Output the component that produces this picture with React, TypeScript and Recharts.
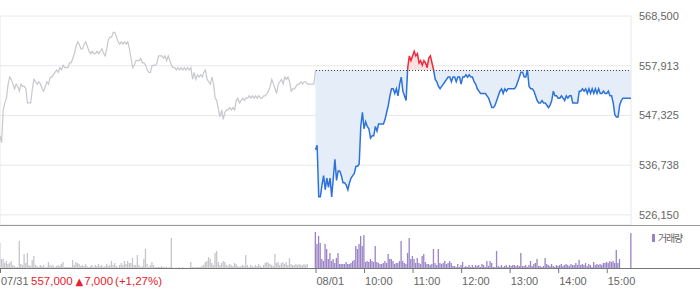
import React from 'react';
import {
  ComposedChart,
  Line,
  Area,
  Bar,
  Cell,
  XAxis,
  YAxis,
  CartesianGrid,
  ReferenceLine,
} from 'recharts';

// ---- data ----
const STEP_MIN = 2; // minutes between samples
const SESSION_MIN = 390; // 09:00 - 15:30
const prevClose = 557000; // 07/31 close
const prevChange = 7000;
const prevChangePct = '+1,27%';

const priceTicks = [526150, 536738, 547325, 557913, 568500];
const priceDomain = [524000, 568500];
const hourTicks = [60, 120, 180, 240, 300, 360, 390, 450, 510, 570, 630, 690, 750];
const dateTicks = [0, 390, 450, 510, 570, 630, 690, 750];
const dateTickLabels = ['07/31', '08/01', '10:00', '11:00', '12:00', '13:00', '14:00', '15:00'];
const volumeDomainK = [0, 42];

// 07/31 prices (thousand won), every 2 minutes from 09:00
const day1PriceK = [
  543, 541.5, 548.5, 550, 551, 554, 555.5, 555, 554, 553,
  554, 553.5, 552.5, 554, 553.5, 553.5, 553, 550, 550, 550,
  553, 555, 554.5, 554, 554.5, 554, 553, 552.5, 553.5, 554.5,
  554, 555.5, 555.5, 556, 556.5, 557, 556.5, 557.5, 557, 558,
  557.5, 557.5, 557.5, 558.5, 558.5, 559.5, 560.5, 562, 563, 562.5,
  561.5, 561.5, 562.5, 563, 562, 561, 560.5, 561, 560.5, 560.5,
  561, 560.5, 561, 561.5, 560.5, 560, 561.5, 563.5, 564, 564,
  565, 565, 564, 563, 562.5, 563, 562.5, 563, 562.5, 563,
  561.5, 559.5, 557.5, 558, 559, 559, 559, 559.5, 558.5, 558.5,
  558, 557, 556.5, 556.5, 558, 558, 558, 558.5, 560, 560,
  560, 559.5, 560, 559, 560, 559, 558, 557.5, 557.5, 557,
  557.5, 557, 557.5, 557, 557.5, 557, 557.5, 557, 557.5, 555,
  556.5, 555, 556, 555.5, 556, 555.5, 556.5, 557, 555, 554.5,
  554, 555.5, 554, 551, 550.5, 548.5, 547, 548.5, 546.5, 548,
  548.5, 548.5, 549, 548.5, 549, 548.5, 550.5, 551, 550, 550.5,
  551, 550.5, 551, 551, 551.5, 551, 551.5, 551, 551.5, 551,
  551.5, 551, 551, 551.5, 551.5, 552, 552.5, 553.5, 555, 554,
  553, 552, 554, 554.5, 555, 554, 555.5, 555, 555.5, 554.5,
  552.5, 553, 553, 553.5, 554, 554, 554.5, 554, 554.5, 554.5,
  554, 554, 554, 554, 554, 557,
];

// 08/01 prices (thousand won), every 2 minutes from 09:00
const day2PriceK = [
  540, 541, 530, 530, 532.5, 534.5, 531.5, 534, 532, 534,
  530, 534, 538, 533.5, 535.5, 535.5, 534.5, 533, 533, 532.5,
  531.5, 533, 534, 534.5, 535, 536.5, 536.5, 537, 545, 548,
  544.5, 546, 545, 544.5, 542.5, 543, 543, 545, 544, 545.5,
  545.5, 545.5, 545.5, 546.5, 548, 549.5, 551.5, 553, 553, 552,
  553, 551.5, 554, 555.5, 552.5, 551.5, 550.5, 557.5, 560, 559,
  560, 561, 560, 560.5, 558.5, 559, 558, 559, 558.5, 557.5,
  559.5, 560, 558.5, 557, 555, 554.5, 553.5, 553, 553.5, 554,
  554.5, 555, 555.5, 555.5, 554.5, 555.5, 555.5, 554.5, 555.5, 555.5,
  554, 555.5, 555.5, 556, 555.5, 556, 555.5, 555.5, 554.5, 554,
  553, 552.5, 552, 552, 552, 552, 551.5, 551, 550, 549,
  549, 549.5, 550.5, 551.5, 552.5, 553, 552, 553, 552.5, 553,
  553, 553, 553, 553, 553.5, 554.5, 555.5, 556.5, 556.5, 555.5,
  555.5, 557, 553.5, 553, 553, 552.5, 551.5, 550.5, 550, 550,
  550.5, 550, 550, 549.5, 549, 549.5, 550.5, 552.5, 551.5, 551.5,
  551, 551, 551.5, 551, 550.5, 551.5, 551, 551.5, 551.5, 550,
  550, 550, 550, 552.5, 552.5, 553, 552.5, 553, 552, 553,
  552, 553, 552, 553, 552, 553, 552, 552, 552.5, 552,
  552, 552.5, 551.5, 551.5, 550, 547.5, 547, 547, 549.5, 550.5,
  551, 551, 551, 551, 551, 551,
];

// 07/31 volume (thousand shares) per 2 minutes, 09:00 - 15:28
const day1VolK = [
  25, 9, 9, 5, 7, 4, 5, 7, 3, 2,
  1, 1, 27, 4, 3, 14, 5, 15, 3, 2,
  8, 12, 3, 2, 1, 3, 2, 3, 1, 1,
  6, 3, 2, 3, 1, 2, 3, 2, 4, 6,
  1, 1, 1, 1, 1, 8, 3, 6, 5, 4,
  2, 3, 2, 4, 2, 1, 2, 3, 1, 3,
  2, 4, 2, 3, 1, 2, 4, 2, 3, 7,
  3, 5, 2, 1, 3, 5, 3, 7, 4, 7,
  5, 5, 10, 3, 3, 13, 3, 1, 2, 9,
  19, 4, 1, 3, 6, 3, 1, 1, 1, 1,
  2, 1, 1, 1, 0.5, 1, 30, 0.5, 0, 0.5,
  0, 1, 0, 1, 0, 0.5, 0, 0.5, 6, 1,
  1, 0.5, 1, 1, 1, 2, 3, 6, 7, 11,
  9, 5, 3, 15, 17, 6, 3, 5, 7, 6,
  3, 2, 4, 3, 2, 5, 4, 2, 1, 2,
  3, 2, 13, 3, 1, 3, 2, 1, 3, 2,
  4, 2, 1, 3, 5, 6, 5, 4, 3, 2,
  14, 5, 6, 3, 5, 6, 4, 6, 3, 10,
  4, 3, 3, 4, 3, 4, 3, 3, 4, 3,
  4, 0, 0, 0, 0,
];

// 08/01 volume (thousand shares) per 2 minutes, 09:00 - 15:30
const day2VolK = [
  36, 24, 32, 25, 9, 7, 24, 19, 9, 15,
  7, 9, 5, 10, 15, 4, 4, 4, 4, 6,
  4, 4, 5, 7, 8, 22, 19, 24, 32, 22,
  33, 6, 7, 6, 9, 7, 6, 22, 6, 5,
  4, 4, 5, 7, 5, 14, 9, 9, 7, 4,
  5, 5, 7, 27, 7, 5, 4, 15, 30, 9,
  12, 9, 5, 10, 5, 4, 12, 14, 6, 4,
  4, 3, 4, 19, 5, 3, 19, 5, 4, 5,
  7, 4, 5, 7, 5, 2, 2, 1, 4, 1,
  3, 6, 1, 2, 1, 3, 1, 3, 1, 3,
  2, 3, 1, 4, 3, 1, 7, 2, 7, 5,
  1, 1, 17, 2, 1, 3, 1, 2, 3, 1,
  3, 2, 3, 3, 2, 3, 2, 15, 2, 2,
  3, 1, 3, 7, 2, 4, 5, 9, 2, 2,
  1, 2, 10, 4, 3, 2, 4, 2, 1, 3,
  2, 3, 4, 2, 3, 4, 3, 2, 4, 3,
  3, 5, 3, 8, 3, 4, 3, 5, 2, 4,
  3, 1, 6, 3, 4, 3, 4, 3, 5, 5,
  6, 5, 7, 6, 7, 5, 18, 5, 9, 0,
  0, 0, 0, 0, 0, 35,
];

// ---- derived tables ----
type PriceRow = { t: number; p1: number | null; p2: number | null };
const priceRows: PriceRow[] = [
  ...day1PriceK.map((p, i) => ({ t: i * STEP_MIN, p1: p * 1000, p2: null })),
  ...day2PriceK.map((p, j) => ({ t: SESSION_MIN + j * STEP_MIN, p1: null, p2: p * 1000 })),
];
type VolRow = { t: number; v: number; day: number };
const volRows: VolRow[] = [
  ...day1VolK.map((v, i) => ({ t: i * STEP_MIN, v, day: 1 })),
  ...day2VolK.map((v, j) => ({ t: SESSION_MIN + j * STEP_MIN, v, day: 2 })),
];

const d2Max = Math.max(...day2PriceK) * 1000;
const d2Min = Math.min(...day2PriceK) * 1000;
const split = (d2Max - prevClose) / (d2Max - d2Min);

const FONT = '"Liberation Sans", Arial, sans-serif';
const fmt = (v: number) => v.toLocaleString('en-US');

const UP = '#ee2a3a';
const DOWN = '#2d72d9';
const GREY_LINE = '#c6c8cd';
const GREY_BAR = '#c5c6cc';
const PURPLE = '#9a84c7';

const DateTick = (props: any) => {
  const { x, y, payload } = props;
  const idx = dateTicks.indexOf(payload.value);
  const label = dateTickLabels[idx];
  return (
    <g>
      <line x1={x + 0.5} x2={x + 0.5} y1={y} y2={y + 5} stroke="#777" />
      <text x={x + 1} y={y + 16.5} fill="#666" fontSize={11} fontFamily={FONT}>
        {label}
      </text>
      {payload.value === 0 && (
        <text x={x + 31} y={y + 16.5} fill="#e8202a" fontSize={11.5} fontFamily={FONT}>
          {fmt(prevClose)}
          <tspan dx={3} fontSize={10} fontFamily='"DejaVu Sans", sans-serif'>▲</tspan>
          <tspan dx={1}>{fmt(prevChange)}</tspan>
          <tspan dx={2}>{`(${prevChangePct})`}</tspan>
        </text>
      )}
    </g>
  );
};

const VolBar = (props: any) => {
  const { x, y, width, height, fill } = props;
  if (!height || height <= 0) return null;
  return <rect x={x} y={y} width={width} height={height} fill={fill} />;
};

export default function App() {
  return (
    <div
      style={{
        position: 'absolute',
        left: 0,
        top: 0,
        width: 700,
        height: 289,
        background: '#fff',
        overflow: 'hidden',
        fontFamily: FONT,
      }}
    >
      <div style={{ position: 'absolute', left: 0, top: 0 }}>
        <ComposedChart
          width={700}
          height={226}
          data={priceRows}
          margin={{ top: 16, right: 0, bottom: 0, left: 0 }}
        >
          <defs>
            <linearGradient id="strokeGrad" x1="0" y1="0" x2="0" y2="1">
              <stop offset={0} stopColor={UP} />
              <stop offset={split} stopColor={UP} />
              <stop offset={split} stopColor={DOWN} />
              <stop offset={1} stopColor={DOWN} />
            </linearGradient>
            <linearGradient id="fillGrad" x1="0" y1="0" x2="0" y2="1">
              <stop offset={0} stopColor="#fbe0e3" />
              <stop offset={split} stopColor="#fbe0e3" />
              <stop offset={split} stopColor="#e5edf8" />
              <stop offset={1} stopColor="#e5edf8" />
            </linearGradient>
          </defs>
          <CartesianGrid stroke="#e8e8e8" />
          <XAxis
            dataKey="t"
            type="number"
            domain={[0, SESSION_MIN * 2]}
            ticks={hourTicks}
            interval={0}
            tick={false}
            axisLine={false}
            tickLine={false}
            height={1}
          />
          <YAxis
            orientation="right"
            width={69}
            type="number"
            domain={priceDomain}
            ticks={priceTicks}
            interval={0}
            allowDataOverflow
            tickFormatter={fmt}
            axisLine={false}
            tickLine={false}
            tick={{ fill: '#666', fontSize: 11, fontFamily: FONT }}
          />
          <Line
            dataKey="p1"
            type="linear"
            stroke={GREY_LINE}
            strokeWidth={1.2}
            dot={false}
            activeDot={false}
            connectNulls={false}
            isAnimationActive={false}
          />
          <Area
            dataKey="p2"
            type="linear"
            baseValue={prevClose}
            stroke="url(#strokeGrad)"
            strokeWidth={1.5}
            fill="url(#fillGrad)"
            fillOpacity={1}
            dot={false}
            activeDot={false}
            connectNulls={false}
            isAnimationActive={false}
          />
          <ReferenceLine
            segment={[
              { x: SESSION_MIN, y: prevClose },
              { x: SESSION_MIN * 2, y: prevClose },
            ]}
            stroke="#444"
            strokeDasharray="1 2"
            shapeRendering="crispEdges"
          />
        </ComposedChart>
      </div>

      <div style={{ position: 'absolute', left: 0, top: 225, width: 700, height: 1, background: '#999' }} />

      <div style={{ position: 'absolute', left: 0, top: 226 }}>
        <ComposedChart
          width={700}
          height={63}
          data={volRows}
          margin={{ top: 0, right: 69, bottom: 0, left: 0 }}
        >
          <XAxis
            dataKey="t"
            type="number"
            domain={[0, SESSION_MIN * 2]}
            ticks={dateTicks}
            interval={0}
            height={21}
            axisLine={false}
            tickLine={false}
            tickSize={0}
            tickMargin={0}
            tick={<DateTick />}
          />
          <YAxis hide type="number" domain={volumeDomainK} allowDataOverflow />
          <Bar dataKey="v" barSize={1.3} shape={<VolBar />} isAnimationActive={false}>
            {volRows.map((r, i) => (
              <Cell key={i} fill={r.day === 1 ? GREY_BAR : PURPLE} />
            ))}
          </Bar>
        </ComposedChart>
      </div>

      <div style={{ position: 'absolute', left: 0, top: 268, width: 700, height: 1, background: '#777' }} />

      <div
        style={{
          position: 'absolute',
          left: 652,
          top: 233,
          display: 'flex',
          alignItems: 'center',
          height: 10,
        }}
      >
        <span style={{ display: 'inline-block', width: 3, height: 8, background: PURPLE, marginRight: 3 }} />
        <span
          style={{
            fontFamily: '"Noto Sans CJK KR", sans-serif',
            fontSize: 10,
            color: '#666',
            letterSpacing: -1.2,
            lineHeight: '10px',
          }}
        >
          거래량
        </span>
      </div>
    </div>
  );
}
